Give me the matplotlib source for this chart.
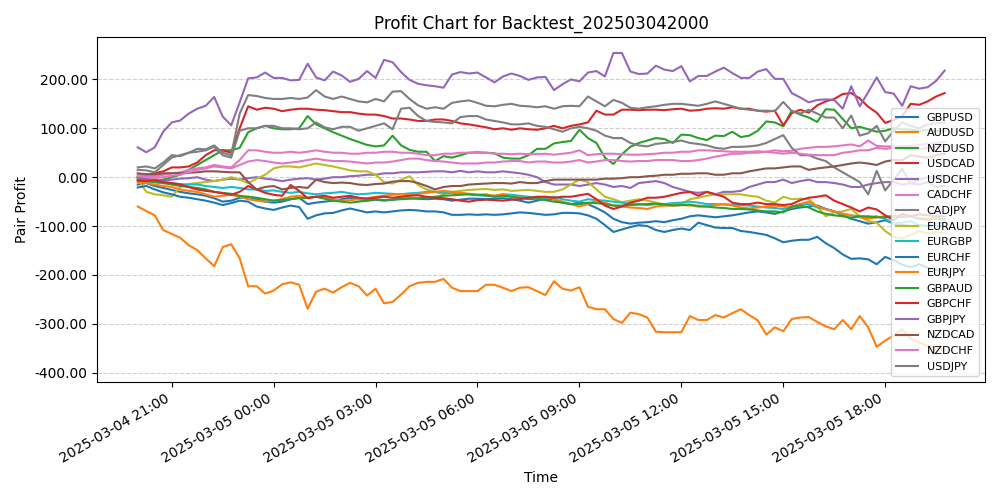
import matplotlib
matplotlib.use("Agg")
import matplotlib.pyplot as plt
import matplotlib.dates as mdates
from matplotlib.ticker import FormatStrFormatter
import pandas as pd

times = pd.date_range("2025-03-04 20:00", periods=96, freq="15min")

GBPUSD = [-15,-12,-18,-22,-26,-30,-33,-35,-38,-43,-50,-48,-42,-40,-45,-50,-52,-50,-45,-42,-55,-52,-50,-48,-45,-42,-45,-48,-46,-48,-46,-44,-43,-44,-45,-44,-45,-48,-46,-44,
          -44,-45,-44,-43,-45,-48,-52,-48,-44,-45,-52,-55,-52,-55,-63,-72,-85,-92,-95,-93,-92,-90,-92,-88,-85,-80,-78,-80,-82,-80,-78,-75,-72,-70,-72,-75,-70,-65,-62,-60,-58,-65,-70,-78,-85,-90,-95,-92,-88,-95,-98,-100,-98,-100,-100,-100]
AUDUSD = [-60,-69,-78,-108,-116,-124,-139,-149,-166,-182,-143,-137,-166,-223,-223,-238,-232,-219,-215,-220,-269,-234,-228,-236,-225,-216,-223,-242,-228,-258,-255,-240,-223,-216,-214,-214,-208,-226,-233,-233,
          -233,-220,-220,-226,-233,-226,-225,-233,-241,-213,-228,-232,-225,-265,-270,-270,-290,-298,-277,-280,-287,-316,-317,-317,-317,-284,-292,-292,-282,-287,-278,-270,-282,-293,-322,-307,-315,-290,-287,-286,-296,-305,-311,-292,-311,-284,-307,-347,-334,-324,-311,-330,-338,-345,-348,-352]
NZDUSD = [0,-5,-8,-5,0,5,15,25,35,45,55,55,
          60,92,100,105,100,98,98,100,125,108,100,92,85,78,72,66,63,65,85,65,56,52,52,33,43,40,45,50,
          51,50,49,40,38,38,45,58,58,69,72,74,97,80,70,40,27,47,62,70,75,80,78,70,87,86,80,76,85,84,93,82,85,95,114,112,104,136,128,122,113,139,138,119,100,103,98,93,95,100,98,97,95,96,94,95]
USDCAD = [0,5,8,12,20,20,22,30,45,55,55,50,
          100,145,138,142,140,135,138,140,140,138,137,135,133,133,130,128,128,125,120,120,118,115,115,118,118,115,110,108,
          105,102,98,100,97,100,98,97,100,105,100,105,108,112,
          136,128,128,138,138,137,138,138,137,139,140,136,137,140,141,140,143,140,140,
          136,134,136,106,131,138,132,147,155,160,170,172,161,144,132,111,117,125,150,148,155,165,172]
USDCHF = [0,-3,-5,-8,-5,-3,-2,0,-5,-8,-5,-3,
          -5,-2,0,-3,-5,-8,-5,-3,-2,-5,-3,0,0,2,3,5,5,8,8,10,10,10,11,12,12,10,13,10,
          12,10,10,12,10,8,5,0,-10,-15,-15,-15,-18,-15,-12,-15,-20,-18,-22,-12,-10,-8,-12,-20,-25,-30,-32,-30,-35,-30,-30,-28,-20,-15,-10,-10,-5,-12,-8,-5,-10,-10,-12,-15,-20,-20,-15,-12,-10,-10,-15,-12,-5,0,0,2]
CADCHF = [5,2,0,5,8,10,15,18,20,25,22,20,
          35,55,55,52,50,50,52,50,52,55,52,50,50,48,48,50,50,52,52,50,50,48,45,45,48,48,50,50,
          50,50,48,48,47,48,47,47,48,46,48,50,55,45,47,48,48,47,46,46,47,48,50,50,52,52,55,55,54,53,52,52,52,53,52,55,53,54,58,60,62,62,63,65,67,63,75,64,63,63,63,64,66,68,70,72]
CADJPY = [15,14,10,25,40,45,50,52,55,62,45,40,
          95,100,100,105,105,100,100,98,100,112,102,98,103,103,95,100,105,110,98,140,142,125,115,113,112,110,123,125,
          125,118,115,112,108,108,110,105,103,98,93,
          100,103,100,95,85,80,80,70,65,63,68,70,72,75,70,68,65,60,58,62,
          62,63,65,70,78,86,60,45,45,38,33,20,10,0,-10,-35,13,-27,-5,17,-13,-15,-10,-20,-18]
EURAUD = [-4,-30,-35,-37,-40,-20,-14,-12,-10,-8,-5,0,-5,-12,-3,5,18,22,22,20,24,28,25,22,18,14,12,12,5,-10,-13,-5,2,-16,-25,-30,-35,-30,-28,-26,
          -25,-24,-26,-25,-28,-27,-26,-28,-30,-30,-25,-15,-5,-10,-25,-40,-45,-51,-48,-45,-48,-52,-55,-57,-55,-45,-42,-38,-35,-35,-35,-35,-38,-40,-48,-52,-40,-45,-44,-45,-60,-80,-72,-70,-65,-80,-90,-93,-110,-122,-125,-118,-110,-115,-112,-115]
EURGBP = [-5,-8,-10,-12,-12,-14,-15,-15,-18,-20,-22,-20,-22,-25,-25,-28,-27,-30,-32,-30,-33,-35,-33,-32,-30,-33,-35,-34,-32,-33,-34,-35,-33,-32,-30,-30,-32,-32,-33,-35,
          -37,-38,-38,-35,-36,-38,-40,-42,-42,-40,-45,-48,-50,-45,-47,-48,-50,-52,-55,-55,-57,-55,-55,-53,-52,-50,-52,-55,-55,-56,-56,-57,-58,-60,-62,-63,-65,-60,-55,-55,-62,-65,-70,-75,-78,-80,-82,-80,-85,-95,-93,-90,-98,-100,-95,-92]
EURCHF = [-21,-18,-25,-31,-35,-40,-42,-45,-48,-52,-57,-53,-48,-50,-60,-64,-67,-62,-58,-61,-85,-78,-74,-73,-68,-64,-68,-72,-70,-72,-70,-68,-67,-68,-70,-70,-72,-77,-77,-76,
          -77,-76,-77,-76,-74,-72,-73,-75,-77,-76,-73,-73,-74,-78,-85,-98,-112,-107,-102,-98,-100,-108,-112,-108,-105,-108,-93,-98,-103,-104,-104,-110,-112,-115,-118,-125,-133,-130,-128,-128,-122,-135,-145,-158,-167,-166,-168,-178,-163,-170,-179,-184,-178,-185,-190,-188]
EURJPY = [-10,-12,-15,-18,-20,-25,-28,-30,-35,-40,-38,-36,-40,-45,-48,-50,-48,-45,-40,-38,-42,-40,-42,-45,-48,-47,-45,-43,-40,-38,-36,-35,-36,-34,-32,-30,-28,-30,-32,-34,
          -36,-35,-38,-35,-40,-42,-43,-42,-40,-45,-50,-55,-60,-55,-48,-52,-58,-60,-62,-63,-65,-60,-58,-58,-57,-58,-58,-60,-57,-55,-58,-62,-64,-62,-60,-58,-60,-62,-55,-50,-60,-66,-70,-75,-78,-82,-85,-82,-80,-80,-78,-80,-85,-88,-85,-86]
GBPAUD = [-5,-8,-10,-12,-15,-18,-20,-22,-25,-30,-32,-34,-38,-40,-42,-45,-48,-46,-45,-43,-42,-40,-44,-48,-50,-52,-50,-48,-45,-47,-46,-45,-44,-43,-42,-40,-38,-37,-36,-35,
          -36,-37,-40,-38,-40,-42,-45,-44,-47,-50,-52,-55,-55,-52,-53,-55,-58,-58,-57,-56,-55,-54,-56,-58,-57,-56,-60,-60,-62,-63,-65,-65,-66,-68,-70,-70,-72,-60,-58,-62,-70,-75,-78,-80,-83,-80,-80,-82,-82,-80,-82,-80,-85,-85,-84,-86]
GBPCHF = [-7,-8,-6,-10,-12,-15,-20,-25,-28,-30,-33,-36,-30,-18,-25,-32,-36,-38,-16,-28,-43,-40,-38,-42,-40,-38,-42,-44,-42,-40,-42,-40,-38,-37,-40,-42,-43,-45,-48,-50,
          -47,-46,-47,-48,-46,-45,-42,-40,-40,-42,-40,-40,-37,-34,-45,-58,-65,-60,-52,-48,-42,-42,-40,-36,-32,-30,-38,-30,-35,-40,-52,-55,-55,-52,-55,-55,-57,-55,-47,-42,-40,-37,-48,-55,-62,-70,-62,-66,-78,-88,-75,-80,-76,-78,-80,-80]
GBPJPY = [61,51,61,93,112,116,130,140,146,164,124,106,153,202,204,214,203,203,198,199,232,204,198,216,208,195,201,217,203,240,235,215,199,191,188,186,183,210,215,212,
          214,204,194,206,212,207,199,204,205,178,190,200,196,214,217,206,254,254,216,211,212,228,220,217,227,196,207,207,216,224,213,203,203,216,221,201,201,172,163,153,158,159,158,140,186,145,174,204,174,171,146,186,181,184,197,218]
NZDCAD = [8,6,5,8,8,8,9,10,12,12,11,10,10,-10,-25,-20,-18,-25,-22,-20,-22,-5,-10,-12,-11,-12,-15,-16,-14,-13,-9,-8,-8,-12,-18,-25,-20,-18,-18,-15,
          -14,-13,-12,-12,-13,-10,-12,-12,-8,-5,-5,-5,-5,-5,-5,-3,-3,-2,0,0,2,3,5,5,7,7,8,8,5,5,8,8,12,15,18,18,20,22,22,15,18,20,22,25,28,30,28,25,32,35,35,45,42,40,45,48]
NZDCHF = [2,0,-2,0,3,5,10,15,18,22,20,18,
          25,32,35,33,30,28,30,32,35,38,35,33,33,32,30,28,30,30,32,35,38,38,35,33,32,30,28,28,
          28,30,30,32,33,33,30,32,32,30,30,32,35,30,32,35,35,33,32,33,33,35,35,35,33,33,35,38,42,45,48,48,50,50,52,50,48,50,48,46,45,45,45,50,52,55,55,60,58,60,60,55,58,60,62,63]
USDJPY = [20,22,18,30,45,43,50,58,57,65,50,45,
          130,168,166,162,160,160,162,160,163,178,165,160,165,160,155,153,160,155,175,176,160,147,140,143,140,152,155,157,
          152,146,145,148,150,146,145,143,145,140,145,146,145,
          165,155,145,158,152,142,140,143,145,148,150,150,
          148,146,150,155,150,145,140,138,136,
          136,135,154,135,130,138,130,122,122,100,126,85,90,105,73,95,112,105,100,108,110,112]

pairs = ["GBPUSD","AUDUSD","NZDUSD","USDCAD","USDCHF","CADCHF","CADJPY","EURAUD","EURGBP",
         "EURCHF","EURJPY","GBPAUD","GBPCHF","GBPJPY","NZDCAD","NZDCHF","USDJPY"]
series = [GBPUSD,AUDUSD,NZDUSD,USDCAD,USDCHF,CADCHF,CADJPY,EURAUD,EURGBP,
          EURCHF,EURJPY,GBPAUD,GBPCHF,GBPJPY,NZDCAD,NZDCHF,USDJPY]
colors = ["tab:blue","tab:orange","tab:green","tab:red","tab:purple","tab:pink","tab:gray",
          "tab:olive","tab:cyan","tab:blue","tab:orange","tab:green","tab:red","tab:purple",
          "tab:brown","tab:pink","tab:gray"]

fig, ax = plt.subplots(figsize=(10, 5), dpi=100)
for name, vals, c in zip(pairs, series, colors):
    ax.plot(times, vals, label=name, color=c, linewidth=1.5)

ax.set_title("Profit Chart for Backtest_202503042000")
ax.set_xlabel("Time")
ax.set_ylabel("Pair Profit")
ax.set_ylim(-418, 286)
ax.set_yticks([-400, -300, -200, -100, 0, 100, 200])
ax.yaxis.set_major_formatter(FormatStrFormatter("%.2f"))
ax.xaxis.set_major_locator(mdates.HourLocator(byhour=[0, 3, 6, 9, 12, 15, 18, 21]))
ax.xaxis.set_major_formatter(mdates.DateFormatter("%Y-%m-%d %H:%M"))
ax.grid(axis="y", linestyle="--", alpha=0.6)
ax.legend(loc="lower right", fontsize=8)
fig.autofmt_xdate()
fig.tight_layout()
fig.savefig("out.png")
